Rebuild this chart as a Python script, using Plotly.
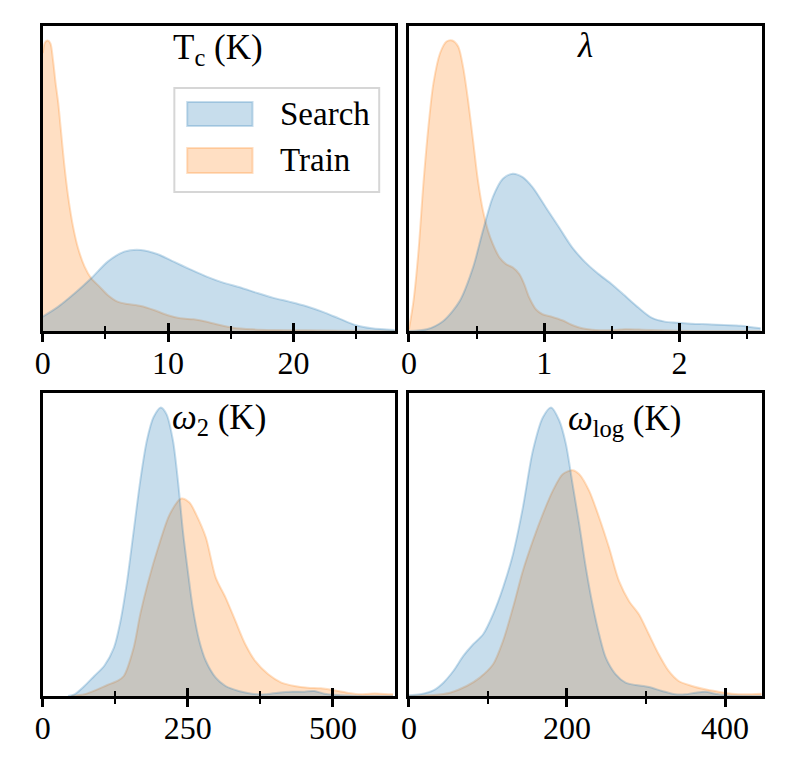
import plotly.graph_objects as go

# ---------------- data ----------------
# Panel 1: T_c (K)
tc_train_x = [0, 0.18, 0.39, 0.61, 0.82, 1.03, 1.24, 1.45, 1.71, 2.03, 2.42, 2.82, 3.34, 3.87, 4.53,
              5.18, 5.97, 6.76, 7.82, 8.87, 9.92, 10.97, 12.03, 13.08, 14.13, 15.18, 16.76, 18.34,
              20.97, 23.61, 28.08]
tc_train_y = [0.833, 0.865, 0.871, 0.863, 0.813, 0.743, 0.683, 0.603, 0.503, 0.403, 0.313, 0.248,
              0.193, 0.158, 0.133, 0.108, 0.088, 0.081, 0.075, 0.063, 0.048, 0.038, 0.035, 0.028,
              0.018, 0.010, 0.005, 0.003, 0.002, 0.001, 0.000]
tc_search_x = [0, 1.24, 2.55, 3.87, 5.18, 6.50, 7.82, 9.13, 10.45, 11.76, 13.08, 14.39, 15.71,
               17.03, 18.34, 19.66, 20.97, 22.29, 23.61, 24.92, 26.24, 28.08]
tc_search_y = [0.043, 0.073, 0.113, 0.158, 0.208, 0.238, 0.243, 0.231, 0.208, 0.185, 0.163, 0.145,
               0.131, 0.115, 0.100, 0.088, 0.075, 0.058, 0.038, 0.018, 0.008, 0.003]

# Panel 2: lambda
lam_train_x = [0, 0.034, 0.071, 0.107, 0.144, 0.181, 0.230, 0.278, 0.320, 0.364, 0.400, 0.437,
               0.474, 0.510, 0.547, 0.584, 0.620, 0.669, 0.718, 0.767, 0.816, 0.852, 0.889, 0.938,
               0.987, 1.060, 1.133, 1.206, 1.280, 1.353, 1.475, 1.597, 1.719, 1.841, 2.085, 2.598]
lam_train_y = [0.005, 0.090, 0.240, 0.440, 0.610, 0.740, 0.830, 0.865, 0.868, 0.850, 0.790, 0.690,
               0.570, 0.450, 0.360, 0.300, 0.260, 0.220, 0.200, 0.190, 0.170, 0.140, 0.100, 0.065,
               0.050, 0.042, 0.032, 0.018, 0.008, 0.004, 0.002, 0.005, 0.004, 0.002, 0.000, 0.000]
lam_search_x = [0, 0.132, 0.254, 0.376, 0.474, 0.547, 0.620, 0.694, 0.767, 0.840, 0.913, 1.011,
                1.109, 1.206, 1.304, 1.402, 1.499, 1.597, 1.695, 1.792, 1.890, 1.988, 2.085, 2.208,
                2.330, 2.452, 2.598]
lam_search_y = [0.000, 0.005, 0.030, 0.090, 0.190, 0.300, 0.400, 0.455, 0.470, 0.460, 0.430, 0.370,
                0.310, 0.250, 0.205, 0.170, 0.140, 0.105, 0.070, 0.040, 0.028, 0.025, 0.022, 0.020,
                0.018, 0.016, 0.008]

# Panel 3: omega_2 (K)
w2_search_x = [43.6, 54.9, 71.8, 88.8, 105.8, 122.7, 134.0, 145.4, 156.7, 168.0, 179.3, 190.6,
               203.6, 213.2, 224.5, 233.0, 241.5, 250.0, 258.5, 269.8, 281.1, 298.1, 315.0, 337.7,
               360.3, 382.9, 405.5, 428.2, 450.8, 467.8, 484.7, 507.4, 535.6, 603.5]
w2_search_y = [0.000, 0.005, 0.030, 0.060, 0.090, 0.145, 0.225, 0.345, 0.495, 0.645, 0.765, 0.835,
               0.865, 0.845, 0.765, 0.645, 0.495, 0.375, 0.265, 0.165, 0.105, 0.055, 0.030, 0.015,
               0.007, 0.005, 0.010, 0.013, 0.013, 0.015, 0.007, 0.003, 0.001, 0.000]
w2_train_x = [49.2, 71.8, 94.5, 111.4, 128.4, 139.7, 156.7, 168.0, 182.1, 198.9, 218.9, 238.7,
              252.8, 264.1, 281.1, 298.1, 315.0, 332.0, 349.0, 366.0, 388.6, 411.2, 433.8, 456.4,
              479.1, 501.7, 524.3, 546.9, 563.9, 580.9, 603.5]
w2_train_y = [0.000, 0.005, 0.020, 0.033, 0.045, 0.060, 0.145, 0.245, 0.345, 0.445, 0.545, 0.592,
              0.580, 0.545, 0.475, 0.355, 0.295, 0.225, 0.155, 0.105, 0.065, 0.040, 0.030, 0.025,
              0.023, 0.017, 0.010, 0.005, 0.007, 0.007, 0.005]

# Panel 4: omega_log (K)
wl_search_x = [0, 14.3, 31.0, 43.6, 56.2, 68.8, 81.3, 93.9, 106.5, 119.1, 131.7, 144.2, 156.8,
               169.4, 179.9, 190.4, 198.7, 207.1, 215.5, 223.9, 232.3, 240.7, 249.1, 261.6, 274.2,
               286.8, 303.6, 320.3, 337.1, 349.7, 362.3, 374.8, 387.4, 400.0, 446.1]
wl_search_y = [0.002, 0.005, 0.017, 0.040, 0.075, 0.120, 0.155, 0.185, 0.245, 0.325, 0.425, 0.565,
               0.735, 0.835, 0.865, 0.825, 0.755, 0.635, 0.515, 0.385, 0.275, 0.185, 0.115, 0.065,
               0.040, 0.033, 0.027, 0.015, 0.005, 0.005, 0.010, 0.013, 0.007, 0.002, 0.000]
wl_train_x = [0, 31.0, 52.0, 73.0, 89.7, 106.5, 119.1, 131.7, 144.2, 156.8, 169.4, 182.0, 194.5,
              207.1, 215.5, 228.1, 240.7, 253.2, 265.8, 278.4, 291.0, 303.6, 316.1, 328.7, 341.3,
              358.1, 374.8, 391.6, 408.4, 425.2, 446.1]
wl_train_y = [0.000, 0.003, 0.010, 0.030, 0.055, 0.095, 0.165, 0.265, 0.375, 0.465, 0.545, 0.615,
              0.665, 0.677, 0.665, 0.615, 0.535, 0.445, 0.345, 0.285, 0.245, 0.185, 0.125, 0.075,
              0.045, 0.030, 0.020, 0.013, 0.007, 0.005, 0.007]

series_names = ["Search", "Train"]
panel_titles = ["T<sub>c</sub> (K)", "<i>λ</i>", "<i>ω</i><sub>2</sub> (K)", "<i>ω</i><sub>log</sub> (K)"]
x_ranges = [[0, 28.1], [0, 2.61], [0, 607], [0, 447]]
major_ticks = [[0, 10, 20], [0, 1, 2], [0, 250, 500], [0, 200, 400]]
minor_ticks = [[5, 15, 25], [0.5, 1.5, 2.5], [125, 375], [100, 300]]

panels = [
    (tc_search_x, tc_search_y, tc_train_x, tc_train_y),
    (lam_search_x, lam_search_y, lam_train_x, lam_train_y),
    (w2_search_x, w2_search_y, w2_train_x, w2_train_y),
    (wl_search_x, wl_search_y, wl_train_x, wl_train_y),
]

# ---------------- style ----------------
WIN_W, WIN_H = 789, 767
PAD = 8                      # default page body margin
W, H = WIN_W - 2 * PAD, WIN_H - 2 * PAD
FONT = "Liberation Serif"
BLUE_FILL = "rgba(31,119,180,0.25)"
BLUE_LINE = "rgba(31,119,180,0.25)"
ORANGE_FILL = "rgba(255,127,14,0.25)"
ORANGE_LINE = "rgba(255,127,14,0.25)"

# panel boxes in window pixels (left, right, top, bottom)
boxes = [(35, 391, 26, 331), (405, 762, 26, 331), (35, 391, 393, 696), (405, 762, 393, 696)]

def px_x(p):
    return (p - PAD) / W

def px_y(p):
    return 1 - (p - PAD) / H

fig = go.Figure()
layout = dict(
    width=W, height=H,
    margin=dict(l=0, r=0, t=0, b=0),
    paper_bgcolor="white", plot_bgcolor="white",
    showlegend=False,
    font=dict(family=FONT, size=32, color="black"),
)

for i, (sx, sy, tx, ty) in enumerate(panels):
    n = i + 1
    xa = "x" if n == 1 else f"x{n}"
    ya = "y" if n == 1 else f"y{n}"
    # Train drawn first, Search on top
    fig.add_trace(go.Scatter(x=tx, y=ty, xaxis=xa, yaxis=ya, mode="lines", name=series_names[1],
                             line=dict(color=ORANGE_LINE, width=2, shape="spline", smoothing=0.8),
                             fill="tozeroy", fillcolor=ORANGE_FILL, hoverinfo="skip"))
    fig.add_trace(go.Scatter(x=sx, y=sy, xaxis=xa, yaxis=ya, mode="lines", name=series_names[0],
                             line=dict(color=BLUE_LINE, width=2, shape="spline", smoothing=0.8),
                             fill="tozeroy", fillcolor=BLUE_FILL, hoverinfo="skip"))
    ymax = max(max(sy), max(ty)) * 1.05
    l, r, t, b = boxes[i]
    xdom = [px_x(l), px_x(r)]
    ydom = [px_y(b), px_y(t)]
    key_x = "xaxis" if n == 1 else f"xaxis{n}"
    key_y = "yaxis" if n == 1 else f"yaxis{n}"
    layout[key_x] = dict(
        domain=xdom, anchor=ya, range=x_ranges[i], showgrid=False, zeroline=False,
        showline=True, linecolor="black", linewidth=2.7, mirror=True,
        tickmode="array", tickvals=major_ticks[i], ticktext=[str(v) for v in major_ticks[i]],
        ticks="outside", ticklen=8, tickwidth=2.7, tickcolor="black",
        minor=dict(tickmode="array", tickvals=minor_ticks[i], ticks="outside", ticklen=5,
                   tickwidth=1.8, tickcolor="black", showgrid=False),
        tickfont=dict(family=FONT, size=32, color="black"),
        ticklabelstandoff=-6,
        fixedrange=True,
    )
    layout[key_y] = dict(
        domain=ydom, anchor=xa, range=[0, ymax], showgrid=False, zeroline=False,
        showline=True, linecolor="black", linewidth=2.7, mirror=True,
        showticklabels=False, ticks="", fixedrange=True,
    )
    # overlay axis for inward-pointing ticks (ticks cross the spine)
    m = n + 4
    key_o = f"xaxis{m}"
    fig.add_trace(go.Scatter(x=[], y=[], xaxis=f"x{m}", yaxis=ya, showlegend=False,
                             hoverinfo="skip"))
    layout[key_o] = dict(
        overlaying=xa, anchor=ya, range=x_ranges[i], showgrid=False, zeroline=False,
        showline=False, showticklabels=False,
        tickmode="array", tickvals=major_ticks[i],
        ticks="inside", ticklen=8, tickwidth=2.7, tickcolor="black",
        minor=dict(tickmode="array", tickvals=minor_ticks[i], ticks="inside", ticklen=5,
                   tickwidth=1.8, tickcolor="black", showgrid=False),
        fixedrange=True,
    )

fig.update_layout(**layout)

# panel titles
title_pos = [(212.5, 50), (583, 46), (213, 419), (622.5, 420)]
for txt, (cx, cy) in zip(panel_titles, title_pos):
    fig.add_annotation(text=txt, xref="paper", yref="paper", x=px_x(cx), y=px_y(cy),
                       xanchor="center", yanchor="middle", showarrow=False,
                       font=dict(family=FONT, size=35, color="black"))

# legend (drawn manually to match the large matplotlib-style patches)
fig.add_shape(type="rect", xref="paper", yref="paper",
              x0=px_x(168), x1=px_x(375), y0=px_y(192), y1=px_y(88),
              line=dict(color="rgb(214,214,214)", width=2), fillcolor="rgba(255,255,255,0.85)")
legend_items = [(series_names[0], BLUE_FILL, BLUE_LINE, 102, 126),
                (series_names[1], ORANGE_FILL, ORANGE_LINE, 148, 173)]
for name, fc, lc, t, b in legend_items:
    fig.add_shape(type="rect", xref="paper", yref="paper",
                  x0=px_x(181), x1=px_x(247), y0=px_y(b), y1=px_y(t),
                  line=dict(color=lc, width=2), fillcolor=fc)
    fig.add_annotation(text=name, xref="paper", yref="paper", x=px_x(273), y=px_y((t + b) / 2),
                       xanchor="left", yanchor="middle", showarrow=False,
                       font=dict(family=FONT, size=33, color="black"))

fig.write_html("out.html")
